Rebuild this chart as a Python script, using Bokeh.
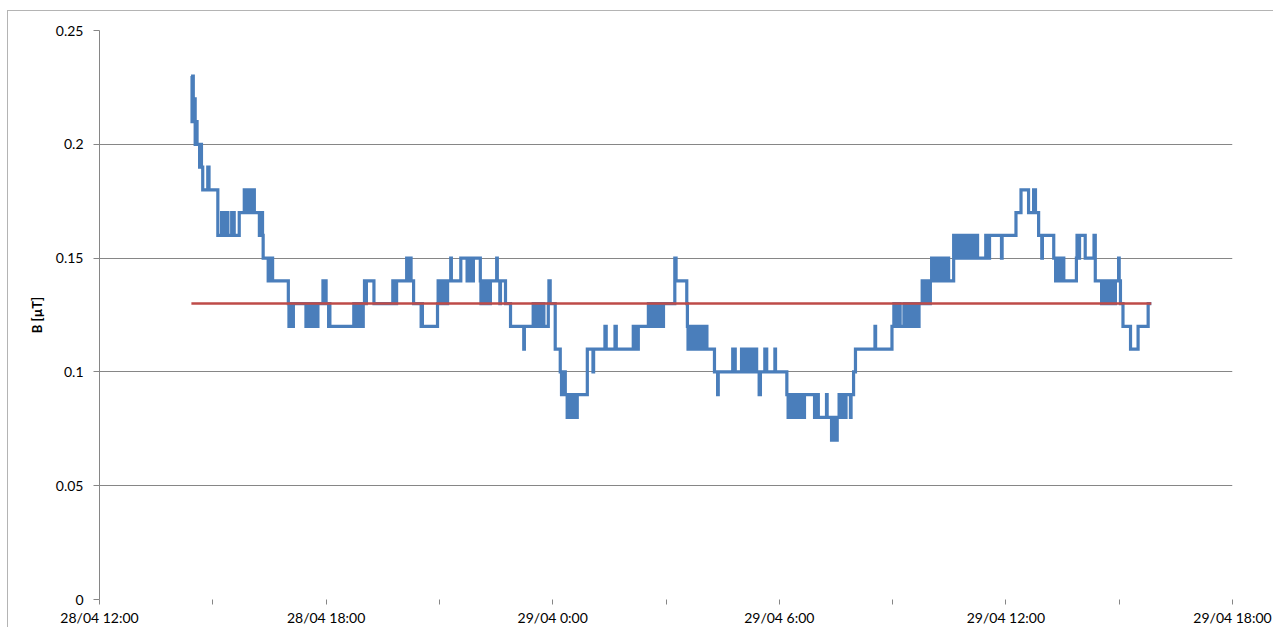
import pandas as pd
from bokeh.plotting import figure
from bokeh.models import FixedTicker, CustomJSTickFormatter, Range1d
from bokeh.embed import file_html
from bokeh.resources import INLINE

# ---------------- data ----------------
YEAR_MONTH = "2013-04-"   # only day/month are shown on the chart

# magnetic flux density readings: (day hh:mm, B in µT), step changes
evening_28 = [
    ("28 14:26", 0.23), ("28 14:27", 0.21), ("28 14:28", 0.23), ("28 14:29", 0.22),
    ("28 14:30", 0.21), ("28 14:31", 0.22), ("28 14:32", 0.20), ("28 14:33", 0.21),
    ("28 14:35", 0.20), ("28 14:39", 0.19), ("28 14:41", 0.20), ("28 14:42", 0.19),
    ("28 14:44", 0.18), ("28 14:52", 0.19), ("28 14:54", 0.18), ("28 15:08", 0.16),
    ("28 15:14", 0.17), ("28 15:15", 0.16), ("28 15:17", 0.17), ("28 15:18", 0.16),
    ("28 15:20", 0.17), ("28 15:21", 0.16), ("28 15:23", 0.17), ("28 15:24", 0.16),
    ("28 15:30", 0.17), ("28 15:31", 0.16), ("28 15:33", 0.17), ("28 15:34", 0.16),
    ("28 15:42", 0.17), ("28 15:50", 0.18), ("28 15:51", 0.17), ("28 15:53", 0.18),
    ("28 15:55", 0.17), ("28 15:57", 0.18), ("28 15:58", 0.17), ("28 16:00", 0.18),
    ("28 16:02", 0.17), ("28 16:04", 0.18), ("28 16:06", 0.17), ("28 16:14", 0.16),
    ("28 16:15", 0.17), ("28 16:16", 0.16), ("28 16:18", 0.17), ("28 16:19", 0.16),
    ("28 16:20", 0.15), ("28 16:28", 0.14), ("28 16:33", 0.15), ("28 16:35", 0.14),
    ("28 17:00", 0.13), ("28 17:01", 0.12), ("28 17:02", 0.13), ("28 17:07", 0.12),
    ("28 17:08", 0.13), ("28 17:28", 0.12), ("28 17:29", 0.13), ("28 17:30", 0.12),
    ("28 17:32", 0.13), ("28 17:33", 0.12), ("28 17:35", 0.13), ("28 17:36", 0.12),
    ("28 17:38", 0.13), ("28 17:39", 0.12), ("28 17:41", 0.13), ("28 17:42", 0.12),
    ("28 17:44", 0.13), ("28 17:45", 0.12), ("28 17:47", 0.13), ("28 17:55", 0.14),
    ("28 17:57", 0.13), ("28 17:58", 0.14), ("28 18:00", 0.13), ("28 18:04", 0.12),
    ("28 18:05", 0.13), ("28 18:06", 0.12), ("28 18:44", 0.13), ("28 18:45", 0.12),
    ("28 18:47", 0.13), ("28 18:48", 0.12), ("28 18:50", 0.13), ("28 18:51", 0.12),
    ("28 18:53", 0.13), ("28 18:54", 0.12), ("28 18:56", 0.13), ("28 18:57", 0.12),
    ("28 18:59", 0.13), ("28 19:01", 0.14), ("28 19:03", 0.13), ("28 19:04", 0.14),
    ("28 19:16", 0.13), ("28 19:46", 0.14), ("28 19:47", 0.13), ("28 19:48", 0.14),
    ("28 19:49", 0.13), ("28 19:50", 0.14), ("28 19:51", 0.13), ("28 19:52", 0.14),
    ("28 20:08", 0.15), ("28 20:09", 0.14), ("28 20:14", 0.15), ("28 20:15", 0.14),
    ("28 20:19", 0.13), ("28 20:31", 0.12), ("28 20:32", 0.13), ("28 20:33", 0.12),
    ("28 20:57", 0.13), ("28 20:58", 0.14), ("28 20:59", 0.13), ("28 21:01", 0.14),
    ("28 21:02", 0.13), ("28 21:04", 0.14), ("28 21:05", 0.13), ("28 21:07", 0.14),
    ("28 21:08", 0.13), ("28 21:10", 0.14), ("28 21:11", 0.13), ("28 21:13", 0.14),
    ("28 21:18", 0.15), ("28 21:19", 0.14), ("28 21:34", 0.15), ("28 21:44", 0.14),
    ("28 21:45", 0.15), ("28 21:47", 0.14), ("28 21:48", 0.15), ("28 21:50", 0.14),
    ("28 21:51", 0.15), ("28 21:53", 0.14), ("28 21:54", 0.15), ("28 22:05", 0.14),
    ("28 22:06", 0.13), ("28 22:07", 0.14), ("28 22:08", 0.13), ("28 22:09", 0.14),
    ("28 22:10", 0.13), ("28 22:12", 0.14), ("28 22:13", 0.13), ("28 22:15", 0.14),
    ("28 22:16", 0.13), ("28 22:18", 0.14), ("28 22:19", 0.13), ("28 22:21", 0.14),
    ("28 22:31", 0.15), ("28 22:32", 0.14), ("28 22:36", 0.13), ("28 22:37", 0.14),
    ("28 22:45", 0.13), ("28 22:53", 0.12), ("28 23:14", 0.11), ("28 23:15", 0.12),
    ("28 23:29", 0.13), ("28 23:30", 0.12), ("28 23:33", 0.13), ("28 23:34", 0.12),
    ("28 23:38", 0.13), ("28 23:39", 0.12), ("28 23:42", 0.13), ("28 23:43", 0.12),
    ("28 23:45", 0.13), ("28 23:46", 0.12), ("28 23:53", 0.13), ("28 23:54", 0.14),
    ("28 23:56", 0.13),
]

night_29 = [
    ("29 00:04", 0.11), ("29 00:12", 0.10), ("29 00:14", 0.09), ("29 00:15", 0.10),
    ("29 00:17", 0.09), ("29 00:18", 0.10), ("29 00:20", 0.09), ("29 00:23", 0.08),
    ("29 00:24", 0.09), ("29 00:26", 0.08), ("29 00:28", 0.09), ("29 00:29", 0.08),
    ("29 00:31", 0.09), ("29 00:33", 0.08), ("29 00:35", 0.09), ("29 00:36", 0.08),
    ("29 00:39", 0.09), ("29 00:55", 0.11), ("29 01:04", 0.10), ("29 01:05", 0.11),
    ("29 01:23", 0.12), ("29 01:25", 0.11), ("29 01:39", 0.12), ("29 01:41", 0.11),
    ("29 02:08", 0.12), ("29 02:09", 0.11), ("29 02:10", 0.12), ("29 02:11", 0.11),
    ("29 02:13", 0.12), ("29 02:14", 0.11), ("29 02:16", 0.12), ("29 02:32", 0.13),
    ("29 02:34", 0.12), ("29 02:36", 0.13), ("29 02:37", 0.12), ("29 02:39", 0.13),
    ("29 02:40", 0.12), ("29 02:44", 0.13), ("29 02:45", 0.12), ("29 02:47", 0.13),
    ("29 02:48", 0.12), ("29 02:50", 0.13), ("29 02:51", 0.12), ("29 02:53", 0.13),
    ("29 02:54", 0.12), ("29 02:56", 0.13), ("29 03:14", 0.15), ("29 03:16", 0.14),
    ("29 03:33", 0.13), ("29 03:34", 0.12), ("29 03:35", 0.11), ("29 03:36", 0.12),
    ("29 03:37", 0.11), ("29 03:38", 0.12), ("29 03:39", 0.11), ("29 03:40", 0.12),
    ("29 03:41", 0.11), ("29 03:43", 0.12), ("29 03:44", 0.11), ("29 03:45", 0.12),
    ("29 03:47", 0.11), ("29 03:48", 0.12), ("29 03:50", 0.11), ("29 03:51", 0.12),
    ("29 03:52", 0.11), ("29 03:53", 0.12), ("29 03:55", 0.11), ("29 03:56", 0.12),
    ("29 03:58", 0.11), ("29 03:59", 0.12), ("29 04:03", 0.11), ("29 04:04", 0.12),
    ("29 04:05", 0.11), ("29 04:17", 0.10), ("29 04:22", 0.09), ("29 04:23", 0.10),
    ("29 04:46", 0.11), ("29 04:50", 0.10), ("29 05:00", 0.11), ("29 05:01", 0.10),
    ("29 05:04", 0.11), ("29 05:05", 0.10), ("29 05:08", 0.11), ("29 05:09", 0.10),
    ("29 05:13", 0.11), ("29 05:14", 0.10), ("29 05:18", 0.11), ("29 05:19", 0.10),
    ("29 05:23", 0.11), ("29 05:24", 0.10), ("29 05:28", 0.09), ("29 05:30", 0.10),
    ("29 05:37", 0.11), ("29 05:38", 0.10), ("29 05:39", 0.11), ("29 05:40", 0.10),
    ("29 05:53", 0.11), ("29 05:54", 0.10),
]

morning_29 = [
    ("29 06:12", 0.09), ("29 06:14", 0.08), ("29 06:15", 0.09), ("29 06:16", 0.08),
    ("29 06:17", 0.09), ("29 06:18", 0.08), ("29 06:20", 0.09), ("29 06:21", 0.08),
    ("29 06:22", 0.09), ("29 06:24", 0.08), ("29 06:25", 0.09), ("29 06:27", 0.08),
    ("29 06:28", 0.09), ("29 06:30", 0.08), ("29 06:31", 0.09), ("29 06:33", 0.08),
    ("29 06:34", 0.09), ("29 06:36", 0.08), ("29 06:37", 0.09), ("29 06:39", 0.08),
    ("29 06:40", 0.09), ("29 06:56", 0.08), ("29 06:58", 0.09), ("29 06:59", 0.08),
    ("29 07:01", 0.09), ("29 07:02", 0.08), ("29 07:15", 0.09), ("29 07:16", 0.08),
    ("29 07:23", 0.07), ("29 07:24", 0.08), ("29 07:25", 0.07), ("29 07:27", 0.08),
    ("29 07:28", 0.07), ("29 07:30", 0.08), ("29 07:31", 0.07), ("29 07:32", 0.08),
    ("29 07:35", 0.09), ("29 07:36", 0.08), ("29 07:38", 0.09), ("29 07:39", 0.08),
    ("29 07:41", 0.09), ("29 07:45", 0.08), ("29 07:46", 0.09), ("29 07:53", 0.08),
    ("29 07:54", 0.09), ("29 07:58", 0.10), ("29 08:01", 0.11), ("29 08:32", 0.12),
    ("29 08:33", 0.11), ("29 08:59", 0.12), ("29 09:02", 0.13), ("29 09:03", 0.12),
    ("29 09:04", 0.13), ("29 09:05", 0.12), ("29 09:06", 0.13), ("29 09:07", 0.12),
    ("29 09:09", 0.13), ("29 09:10", 0.12), ("29 09:11", 0.13), ("29 09:12", 0.12),
    ("29 09:18", 0.13), ("29 09:19", 0.12), ("29 09:21", 0.13), ("29 09:22", 0.12),
    ("29 09:24", 0.13), ("29 09:25", 0.12), ("29 09:27", 0.13), ("29 09:28", 0.12),
    ("29 09:30", 0.13), ("29 09:31", 0.12), ("29 09:33", 0.13), ("29 09:34", 0.12),
    ("29 09:36", 0.13), ("29 09:37", 0.12), ("29 09:39", 0.13), ("29 09:40", 0.12),
    ("29 09:42", 0.13), ("29 09:47", 0.14), ("29 09:49", 0.13), ("29 09:50", 0.14),
    ("29 09:52", 0.13), ("29 09:53", 0.14), ("29 09:56", 0.13), ("29 09:57", 0.14),
    ("29 09:59", 0.13), ("29 10:00", 0.14), ("29 10:02", 0.15), ("29 10:04", 0.14),
    ("29 10:05", 0.15), ("29 10:07", 0.14), ("29 10:08", 0.15), ("29 10:10", 0.14),
    ("29 10:11", 0.15), ("29 10:13", 0.14), ("29 10:14", 0.15), ("29 10:16", 0.14),
    ("29 10:17", 0.15), ("29 10:19", 0.14), ("29 10:20", 0.15), ("29 10:22", 0.14),
    ("29 10:23", 0.15), ("29 10:25", 0.14), ("29 10:26", 0.15), ("29 10:29", 0.14),
    ("29 10:37", 0.16), ("29 10:38", 0.15), ("29 10:40", 0.16), ("29 10:41", 0.15),
    ("29 10:43", 0.16), ("29 10:44", 0.15), ("29 10:46", 0.16), ("29 10:47", 0.15),
    ("29 10:49", 0.16), ("29 10:50", 0.15), ("29 10:52", 0.16), ("29 10:53", 0.15),
    ("29 10:55", 0.16), ("29 10:56", 0.15), ("29 10:58", 0.16), ("29 10:59", 0.15),
    ("29 11:01", 0.16), ("29 11:02", 0.15), ("29 11:04", 0.16), ("29 11:05", 0.15),
    ("29 11:07", 0.16), ("29 11:08", 0.15), ("29 11:10", 0.16), ("29 11:11", 0.15),
    ("29 11:13", 0.16), ("29 11:15", 0.15),
]

afternoon_29 = [
    ("29 11:28", 0.16), ("29 11:29", 0.15), ("29 11:31", 0.16), ("29 11:32", 0.15),
    ("29 11:34", 0.16), ("29 11:53", 0.15), ("29 11:54", 0.16), ("29 12:16", 0.17),
    ("29 12:24", 0.18), ("29 12:36", 0.17), ("29 12:44", 0.18), ("29 12:47", 0.17),
    ("29 12:52", 0.16), ("29 12:57", 0.15), ("29 12:58", 0.16), ("29 13:16", 0.15),
    ("29 13:19", 0.14), ("29 13:21", 0.15), ("29 13:22", 0.14), ("29 13:24", 0.15),
    ("29 13:25", 0.14), ("29 13:27", 0.15), ("29 13:28", 0.14), ("29 13:31", 0.15),
    ("29 13:32", 0.14), ("29 13:52", 0.15), ("29 13:53", 0.16), ("29 13:56", 0.15),
    ("29 13:57", 0.16), ("29 14:06", 0.15), ("29 14:20", 0.16), ("29 14:22", 0.14),
    ("29 14:32", 0.13), ("29 14:33", 0.14), ("29 14:35", 0.13), ("29 14:36", 0.14),
    ("29 14:38", 0.13), ("29 14:40", 0.14), ("29 14:41", 0.13), ("29 14:43", 0.14),
    ("29 14:45", 0.13), ("29 14:47", 0.14), ("29 14:49", 0.13), ("29 14:50", 0.14),
    ("29 14:53", 0.13), ("29 14:54", 0.14), ("29 14:59", 0.15), ("29 15:00", 0.14),
    ("29 15:02", 0.13), ("29 15:06", 0.12), ("29 15:18", 0.11), ("29 15:30", 0.12),
    ("29 15:46", 0.13), ("29 15:51", 0.13),
]

mean_value = 0.13                      # red reference line (µT)
y_ticks = [0, 0.05, 0.10, 0.15, 0.20, 0.25]
x_major = ["28 12:00", "28 18:00", "29 00:00", "29 06:00", "29 12:00", "29 18:00"]
x_minor = ["28 15:00", "28 21:00", "29 03:00", "29 09:00", "29 15:00"]
y_label = "B [µT]"

# ---------------- build ----------------
readings = evening_28 + night_29 + morning_29 + afternoon_29
times = pd.to_datetime([YEAR_MONTH + t for t, _ in readings])
values = [v for _, v in readings]


def ms(s):
    return pd.Timestamp(YEAR_MONTH + s).value / 1e6


FONT = "Lato"
GRID = "#868686"

p = figure(
    width=1266, height=617,
    x_axis_type="datetime",
    x_range=Range1d(ms(x_major[0]), ms(x_major[-1])),
    y_range=Range1d(0, 0.25),
    output_backend="svg", toolbar_location=None,
    min_border_left=91, min_border_right=42, min_border_top=19, min_border_bottom=28,
)
p.outline_line_color = None
p.background_fill_color = "white"
p.border_fill_color = "white"
p.styles = {"border-left": "1px solid #b4b4b4", "border-top": "1px solid #b4b4b4",
            "margin-left": "7px", "margin-top": "10px"}

# grid
p.xgrid.grid_line_color = None
p.ygrid.ticker = FixedTicker(ticks=y_ticks[1:])
p.ygrid.grid_line_color = GRID
p.ygrid.grid_line_width = 1

# y axis
p.yaxis.ticker = FixedTicker(ticks=y_ticks)
p.yaxis.formatter = CustomJSTickFormatter(
    code="return tick.toFixed(2).replace(/0+$/, '').replace(/\\.$/, '');")
p.yaxis.axis_line_color = GRID
p.yaxis.major_tick_line_color = GRID
p.yaxis.major_tick_in = 0
p.yaxis.major_tick_out = 6
p.yaxis.minor_tick_line_color = None
p.yaxis.major_label_standoff = 10
p.yaxis.major_label_text_font = FONT
p.yaxis.major_label_text_font_size = "14px"
p.yaxis.major_label_text_color = "#000000"
p.yaxis.axis_label = y_label
p.yaxis.axis_label_text_font = FONT
p.yaxis.axis_label_text_font_size = "13px"
p.yaxis.axis_label_text_font_style = "bold"
p.yaxis.axis_label_text_color = "#000000"
p.yaxis.axis_label_standoff = 8

# x axis
p.xaxis.ticker = FixedTicker(ticks=[ms(t) for t in x_major],
                             minor_ticks=[ms(t) for t in x_minor])
p.xaxis.formatter = CustomJSTickFormatter(code="""
const d = new Date(tick);
const dd = String(d.getUTCDate()).padStart(2, '0');
const mo = String(d.getUTCMonth() + 1).padStart(2, '0');
const mi = String(d.getUTCMinutes()).padStart(2, '0');
return dd + '/' + mo + ' ' + d.getUTCHours() + ':' + mi;
""")
p.xaxis.axis_line_color = None
p.xaxis.major_tick_line_color = GRID
p.xaxis.minor_tick_line_color = GRID
p.xaxis.major_tick_in = 0
p.xaxis.major_tick_out = 5
p.xaxis.minor_tick_in = 0
p.xaxis.minor_tick_out = 5
p.xaxis.major_label_standoff = 4
p.xaxis.major_label_text_font = FONT
p.xaxis.major_label_text_font_size = "14px"
p.xaxis.major_label_text_color = "#000000"

# data
p.step(times, values, mode="after", line_color="#4A7EBB", line_width=3.2,
       line_join="miter")
p.line([times[0], times[-1]], [mean_value, mean_value], line_color="#BE4B48",
       line_width=2.5)

open("out.html", "w").write(file_html(p, INLINE))
